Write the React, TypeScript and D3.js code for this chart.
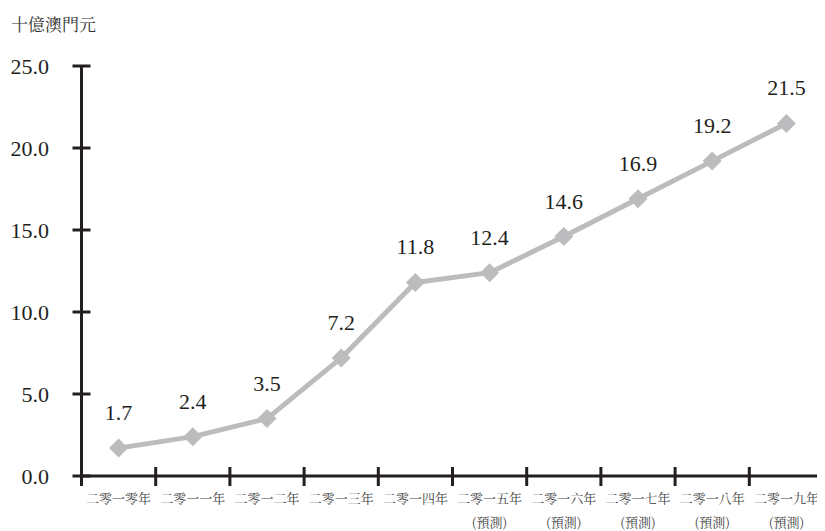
import React from "react";
import * as d3 from "d3";

const categories = ["二零一零年", "二零一一年", "二零一二年", "二零一三年", "二零一四年", "二零一五年", "二零一六年", "二零一七年", "二零一八年", "二零一九年"];
const forecast = [false, false, false, false, false, true, true, true, true, true];
const values = [1.7, 2.4, 3.5, 7.2, 11.8, 12.4, 14.6, 16.9, 19.2, 21.5];
const yTicks = [0, 5, 10, 15, 20, 25];
const unitLabel = "十億澳門元";
const forecastLabel = "(預測)";

export default function App() {
  const W = 825, H = 531;
  const left = 81.5, right = 823.5, top = 66, bottom = 476;
  const x = d3.scaleBand<string>().domain(categories).range([left, right]).padding(0);
  const y = d3.scaleLinear().domain([0, 25]).range([bottom, top]);
  const line = d3.line<number>().x((_, i) => x(categories[i])! + x.bandwidth() / 2).y((d) => y(d));
  const axisColor = "#231f20";
  const tickXs = [...categories.map((c) => x(c)!), right];
  return (
    <svg width={W} height={H} style={{ display: "block", marginLeft: -8, marginTop: -8 }}>
      <style>{`.num { font-family: "Liberation Serif"; } .cjk { font-family: "Noto Serif CJK TC"; }`}</style>
      <text className="cjk" fontFamily="Noto Serif CJK TC" x={11} y={31} fontSize={17} fill="#333">{unitLabel}</text>
      <line x1={left} x2={left} y1={top} y2={bottom} stroke={axisColor} strokeWidth={3} />
      {yTicks.map((t) => (
        <g key={t}>
          <line x1={left - 9} x2={left + 9} y1={y(t)} y2={y(t)} stroke={axisColor} strokeWidth={3} />
          <text className="num" fontFamily="Liberation Serif" x={49} y={y(t) + 8} textAnchor="end" fontSize={22} fill={axisColor}>{t.toFixed(1)}</text>
        </g>
      ))}
      <line x1={left} x2={right} y1={bottom} y2={bottom} stroke={axisColor} strokeWidth={3} />
      {tickXs.map((tx, i) => (
        <line key={i} x1={tx} x2={tx} y1={bottom - 9} y2={bottom + 10} stroke={axisColor} strokeWidth={3} />
      ))}
      {categories.map((c, i) => (
        <g key={c}>
          <text className="cjk" fontFamily="Noto Serif CJK TC" x={x(c)! + x.bandwidth() / 2} y={503} textAnchor="middle" fontSize={13} fill="#444">{c}</text>
          {forecast[i] && (
            <text className="cjk" fontFamily="Noto Serif CJK TC" x={x(c)! + x.bandwidth() / 2} y={527} textAnchor="middle" fontSize={13} fill="#444">{forecastLabel}</text>
          )}
        </g>
      ))}
      <path d={line(values)!} fill="none" stroke="#bcbcbe" strokeWidth={5} strokeLinejoin="round" />
      {values.map((v, i) => {
        const cx = x(categories[i])! + x.bandwidth() / 2;
        const cy = y(v);
        const s = 9.5;
        return (
          <g key={i}>
            <path d={`M${cx},${cy - s}L${cx + s},${cy}L${cx},${cy + s}L${cx - s},${cy}Z`} fill="#bcbcbe" />
            <text className="num" fontFamily="Liberation Serif" x={cx} y={cy - 28} textAnchor="middle" fontSize={22} fill={axisColor}>{v.toFixed(1)}</text>
          </g>
        );
      })}
    </svg>
  );
}
